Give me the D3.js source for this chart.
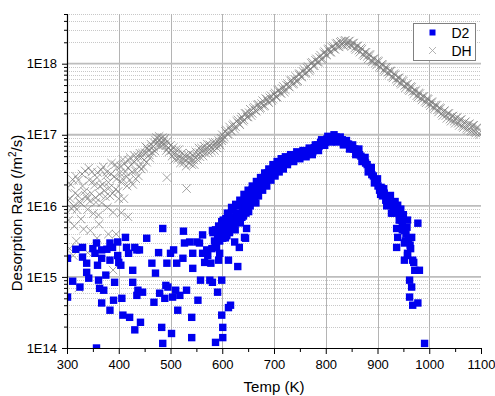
<!DOCTYPE html>
<html>
<head>
<meta charset="utf-8">
<script src="https://cdn.jsdelivr.net/npm/d3@7"></script>
<style>
  html, body { margin: 0; padding: 0; background: #fff; }
  svg { display: block; font-family: "Liberation Sans", Arial, sans-serif; }
  .axis path, .axis line { stroke: #000; }
  .axis text { font-size: 13px; fill: #000; }
</style>
</head>
<body>
<div id="chart"></div>
<script>
'use strict';

// chart values
const seriesNames = ['D2', 'DH'];
const tempTicks = [300, 400, 500, 600, 700, 800, 900, 1000, 1100];
const rateTicks = [1e14, 1e15, 1e16, 1e17, 1e18];
const rateTickLabels = ['1E14', '1E15', '1E16', '1E17', '1E18'];

// D2: [Temp (K), rate]
const d2Points = [
  // low temperature scatter
  [301, 1.83e15], [301, 5.2e14], [311, 8.7e14], [317, 2.45e15], [325, 7.2e14], [330, 1.9e15],
  [330, 2.6e15], [338, 1.56e15], [338, 1.16e15], [342, 9.6e14], [350, 2.5e15], [354, 2.15e15],
  [357, 3.0e15], [359, 1.46e15], [361, 9.0e14], [363, 6.9e14], [367, 2.4e15], [367, 1.83e15],
  [367, 4.3e14], [371, 6.5e14], [375, 1.06e15], [377, 2.45e15], [383, 3.0e15], [383, 1.72e15],
  [383, 3.4e14], [388, 2.6e15], [390, 4.7e14], [392, 8.4e14], [398, 3.1e15], [398, 2.0e15],
  [400, 1.6e15], [404, 1.46e15], [406, 5.0e14], [408, 2.9e14], [413, 3.6e15], [415, 2.6e15],
  [419, 2.15e15], [421, 2.7e14], [427, 1.24e15], [427, 8.4e14], [431, 2.6e15], [435, 2.4e15],
  [431, 1.8e14], [435, 5.5e14], [437, 6.5e14], [440, 2.4e15], [442, 2.3e14], [446, 6.1e14],
  [454, 3.5e15], [464, 1.56e15], [468, 4.4e14], [471, 1.13e15], [477, 2.2e15], [479, 5.9e14],
  [483, 1.95e14], [485, 4.8e15], [485, 1.16e14], [489, 5.0e14], [491, 7.6e14], [493, 1.56e15],
  [495, 7.2e14], [500, 2.15e15], [502, 1.6e14], [504, 5.2e14], [506, 2.4e15], [510, 6.5e14],
  [512, 1.56e15], [514, 3.4e14], [518, 5.5e14], [524, 1.83e15], [525, 4.4e15], [527, 3.0e15],
  [531, 6.5e14], [537, 3.1e15], [541, 2.7e14], [543, 1.32e15], [541, 1.4e14], [543, 2.15e15],
  [551, 3.1e15], [553, 4.7e14], [556, 3.0e15], [558, 9.0e14], [562, 2.15e15], [562, 3.9e15],
  [566, 1.6e15], [570, 2.4e15], [572, 2.0e15], [576, 9.0e14], [578, 1.56e15], [581, 8.4e14],
  [587, 3.1e15], [591, 6.1e14], [593, 1.72e15], [595, 2.15e15], [599, 9.0e14], [599, 2.9e14],
  [601, 1.95e14], [601, 1.4e14], [587, 1.2e14], [612, 1.72e15], [612, 3.7e14], [616, 4.0e14],
  [630, 1.4e15], [357, 1.0e14],
  // main peak
  [580, 2.5e15], [582, 4.2e15], [585, 3.2e15], [587, 4.6e15], [589, 2.6e15], [591, 3.8e15],
  [593, 5.2e15], [595, 3.2e15], [597, 4.4e15], [599, 6.0e15], [601, 3.5e15], [603, 5.0e15],
  [605, 4.2e15], [607, 6.6e15], [609, 3.8e15], [611, 5.75e15], [613, 7.6e15], [615, 4.8e15],
  [617, 6.9e15], [619, 5.5e15], [621, 8.7e15], [623, 6.3e15], [625, 4.6e15], [627, 7.9e15],
  [629, 6.6e15], [631, 1.0e16], [633, 7.6e15], [635, 5.75e15], [637, 1.1e16], [639, 8.7e15],
  [641, 7.2e15], [643, 1.2e16], [645, 9.5e15], [647, 1.38e16], [649, 1.05e16], [651, 8.3e15],
  [653, 1.51e16], [655, 1.2e16], [657, 1.66e16], [659, 1.32e16], [661, 1.82e16], [663, 1.45e16],
  [665, 1.1e16], [667, 1.9e16], [669, 1.58e16], [671, 2.1e16], [673, 1.74e16], [675, 2.3e16],
  [677, 1.9e16], [679, 2.5e16], [681, 2.0e16], [683, 2.63e16], [685, 2.2e16], [687, 2.9e16],
  [689, 2.4e16], [691, 3.0e16], [693, 2.5e16], [695, 3.16e16], [697, 2.75e16], [699, 3.47e16],
  [701, 2.9e16], [703, 3.6e16], [705, 3.16e16], [707, 3.8e16], [709, 3.3e16], [711, 4.0e16],
  [713, 3.47e16], [715, 4.2e16], [717, 3.7e16], [719, 4.4e16], [721, 4.0e16], [724, 4.6e16],
  [727, 4.2e16], [730, 4.8e16], [733, 4.4e16], [736, 5.0e16], [739, 4.7e16], [742, 5.25e16],
  [745, 4.8e16], [748, 5.4e16], [751, 5.0e16], [754, 5.5e16], [757, 5.1e16], [760, 5.6e16],
  [763, 5.25e16], [766, 5.9e16], [769, 5.5e16], [772, 6.2e16], [775, 5.75e16], [778, 6.6e16],
  [781, 6.3e16], [784, 7.2e16], [787, 6.9e16], [790, 7.8e16], [793, 7.4e16], [796, 8.3e16],
  [799, 7.9e16], [802, 8.7e16], [805, 8.3e16], [808, 9.1e16], [811, 8.7e16], [814, 9.3e16],
  [817, 8.9e16], [820, 9.3e16], [823, 8.7e16], [826, 8.9e16], [829, 8.3e16], [832, 8.5e16],
  [835, 7.9e16], [838, 7.9e16], [841, 7.4e16], [844, 7.4e16], [847, 6.9e16], [850, 6.9e16],
  [853, 6.3e16], [856, 6.3e16], [859, 5.75e16], [862, 5.75e16], [865, 5.25e16], [868, 5.0e16],
  [871, 4.6e16], [874, 4.4e16], [877, 4.0e16], [880, 3.8e16], [883, 3.3e16], [886, 3.16e16],
  [889, 2.75e16], [892, 2.63e16], [895, 2.3e16], [898, 2.14e16], [901, 1.9e16], [904, 1.66e16],
  [907, 1.82e16], [910, 1.38e16], [913, 1.51e16], [916, 1.2e16], [919, 1.32e16], [922, 1.05e16],
  [602, 6.3e15], [606, 3.55e15], [610, 7.9e15], [614, 4.2e15], [618, 9.5e15], [622, 5.0e15],
  [626, 1.05e16], [630, 6.0e15], [634, 1.2e16], [638, 6.9e15], [642, 1.45e16], [646, 7.9e15],
  [650, 1.66e16], [654, 1.0e16], [658, 1.9e16], [662, 1.2e16], [666, 2.2e16], [670, 1.38e16],
  [674, 2.5e16], [678, 1.66e16], [682, 2.9e16], [686, 1.9e16], [690, 3.3e16], [694, 2.3e16],
  [698, 3.8e16], [702, 2.63e16], [706, 4.2e16], [710, 3.0e16], [714, 4.6e16], [718, 3.3e16],
  [722, 4.9e16], [726, 3.8e16], [732, 5.25e16], [738, 4.2e16], [744, 5.75e16], [750, 4.6e16],
  [756, 6.0e16], [762, 4.9e16], [768, 6.5e16], [774, 5.25e16], [780, 7.2e16], [786, 6.0e16],
  [792, 8.5e16], [798, 7.1e16], [804, 9.5e16], [810, 7.9e16], [816, 1.0e17], [822, 7.9e16],
  [828, 9.3e16], [834, 7.2e16], [840, 8.3e16], [846, 6.3e16], [852, 7.2e16], [858, 5.25e16],
  [864, 6.3e16], [870, 4.2e16], [876, 4.8e16], [882, 3.0e16], [888, 3.47e16], [894, 2.1e16],
  [900, 2.4e16], [906, 1.45e16], [912, 1.74e16], [918, 1.0e16], [924, 1.38e16], [930, 7.9e15],
  [936, 1.0e16], [942, 6.3e15], [948, 4.6e15], [954, 3.2e15], [958, 2.0e15], [964, 2.5e15],
  [970, 1.6e15],
  // high temperature tail
  [925, 1.4e16], [928, 1.1e16], [931, 9.5e15], [934, 1.15e16], [940, 8.0e15], [943, 7.0e15],
  [945, 9.0e15], [948, 5.5e15], [950, 7.5e15], [955, 4.0e15], [957, 5.0e15], [960, 3.3e15],
  [963, 2.8e15], [918, 1.02e16], [927, 7.9e15], [939, 1.02e16], [946, 6.3e15], [958, 6.3e15],
  [978, 5.7e15], [937, 4.8e15], [952, 4.5e15], [939, 3.6e15], [966, 3.6e15], [937, 2.6e15],
  [952, 3.0e15], [958, 2.15e15], [952, 1.72e15], [968, 1.72e15], [972, 1.24e15], [981, 1.24e15],
  [962, 9.0e14], [966, 7.2e14], [962, 5.2e14], [968, 4.0e14], [978, 4.3e14], [991, 1.16e14],
  [581, 4.5e15], [600, 4.0e15], [606, 3.6e15], [624, 3.1e15], [647, 4.8e15], [643, 3.6e15],
  [633, 2.6e15], [645, 3.5e15]
];

// DH: [Temp (K), rate]
const dhPoints = [
  // low temperature cloud
  [301, 1.78e16], [303, 6.3e15], [306, 1.26e16], [309, 9.1e15], [311, 2.34e16], [314, 5.2e15],
  [316, 1.51e16], [319, 8.9e15], [322, 2.3e16], [324, 1.15e16], [327, 6.5e15], [330, 1.9e16],
  [332, 4.7e15], [335, 3.1e16], [337, 1.38e16], [340, 8.9e15], [343, 2.3e16], [345, 1.17e16],
  [348, 3.0e16], [351, 7.8e15], [353, 1.95e16], [356, 1.12e16], [359, 2.95e16], [361, 7.4e15],
  [364, 1.9e16], [367, 1.1e16], [370, 3.55e16], [372, 1.62e16], [375, 2.63e16], [378, 9.5e15],
  [380, 2.14e16], [383, 1.38e16], [386, 4.0e16], [389, 8.1e15], [391, 2.57e16], [394, 1.7e16],
  [397, 3.47e16], [400, 1.26e16], [402, 2.9e16], [405, 2.14e16], [408, 4.5e16], [410, 1.26e16],
  [413, 3.0e16], [416, 1.9e16], [419, 4.4e16], [421, 2.3e16], [424, 3.8e16], [427, 2.0e16],
  [430, 5.1e16], [432, 3.1e16], [435, 4.5e16], [438, 2.63e16], [441, 5.5e16], [443, 3.3e16],
  [446, 5.5e16], [449, 4.4e16], [452, 6.8e16], [454, 4.1e16], [457, 6.0e16], [460, 4.7e16],
  [462, 7.4e16], [465, 5.6e16], [468, 7.8e16], [470, 5.9e16], [473, 9.1e16], [476, 7.1e16],
  [478, 9.5e16], [481, 6.9e16], [484, 9.1e16], [486, 7.2e16], [489, 8.9e16], [492, 6.0e16],
  [493, 2.5e16], [494, 8.1e16], [497, 5.75e16], [500, 7.1e16], [503, 5.0e16], [505, 6.6e16],
  [508, 4.5e16], [511, 6.2e16], [514, 4.6e16], [516, 6.2e16], [519, 4.0e16], [522, 5.5e16],
  [525, 4.0e16], [527, 5.1e16], [530, 3.6e16], [531, 1.75e16], [533, 5.2e16], [536, 4.0e16],
  [538, 5.5e16], [541, 3.8e16], [544, 5.1e16], [546, 3.8e16], [549, 5.75e16], [552, 4.5e16],
  [555, 6.5e16], [557, 4.9e16], [560, 6.5e16], [563, 5.0e16], [565, 6.9e16], [568, 5.5e16],
  [571, 7.4e16], [574, 5.6e16], [576, 7.2e16], [579, 5.9e16], [582, 7.8e16], [585, 6.0e16],
  [587, 7.8e16], [590, 6.5e16], [593, 8.3e16], [596, 7.1e16], [598, 8.9e16],
  [305, 2.5e15], [312, 2.0e15], [318, 3.2e15], [323, 7.0e14], [340, 2.2e15], [345, 4.5e15],
  [358, 3.5e15], [362, 5.5e15], [380, 4.0e15], [389, 1.25e15], [395, 4.0e15], [405, 8.0e15],
  [418, 7.0e15],
  [302, 1.2e16], [307, 2.0e16], [313, 1.0e16], [317, 2.6e16], [321, 1.4e16], [326, 1.1e16],
  [329, 2.8e16], [334, 1.6e16], [339, 1.25e16], [342, 3.4e16], [347, 1.5e16], [350, 2.2e16],
  [355, 1.3e16], [358, 2.5e16], [363, 1.45e16], [366, 3.2e16], [369, 2.0e16], [374, 1.35e16],
  [377, 3.0e16], [382, 1.8e16], [385, 2.8e16], [388, 1.5e16], [393, 3.8e16], [396, 2.4e16],
  [399, 1.6e16], [404, 3.6e16], [407, 2.4e16], [411, 3.9e16], [415, 2.6e16], [418, 3.4e16],
  [422, 4.8e16], [426, 3.0e16], [429, 4.1e16], [433, 2.4e16], [437, 5.0e16], [440, 3.6e16],
  [444, 4.8e16], [448, 3.5e16], [451, 5.6e16], [455, 6.5e16], [459, 5.2e16], [463, 6.4e16],
  [467, 6.8e16], [471, 8.4e16], [475, 7.9e16], [479, 8.6e16], [483, 7.6e16], [487, 8.3e16],
  [491, 7.0e16], [496, 6.6e16], [502, 6.0e16], [507, 5.4e16], [513, 5.3e16], [518, 4.8e16],
  [524, 4.6e16], [529, 4.4e16], [535, 4.7e16], [540, 4.5e16], [545, 4.4e16], [551, 5.0e16],
  [556, 5.6e16], [561, 5.8e16], [567, 6.2e16], [572, 6.5e16], [578, 6.6e16], [583, 7.0e16],
  [589, 7.2e16], [594, 7.6e16], [599, 8.2e16],
  // main peak
  [600, 1.0e17], [604, 9.3e16], [608, 1.17e17], [612, 1.02e17], [616, 1.17e17], [620, 1.35e17],
  [624, 1.2e17], [628, 1.55e17], [632, 1.45e17], [636, 1.66e17], [640, 1.55e17], [644, 2.0e17],
  [648, 1.78e17], [652, 2.04e17], [656, 1.86e17], [660, 2.34e17], [664, 2.19e17], [668, 2.63e17],
  [672, 2.34e17], [676, 2.75e17], [680, 2.51e17], [684, 3.24e17], [688, 2.95e17], [692, 3.31e17],
  [696, 3.02e17], [700, 3.72e17], [704, 3.39e17], [708, 4.17e17], [712, 3.89e17], [716, 4.47e17],
  [720, 3.98e17], [724, 5.0e17], [728, 4.79e17], [732, 5.75e17], [736, 5.13e17], [740, 6.03e17],
  [744, 5.62e17], [748, 7.08e17], [752, 6.61e17], [756, 7.76e17], [760, 7.24e17], [764, 8.71e17],
  [768, 7.94e17], [772, 1.02e18], [776, 9.33e17], [780, 1.12e18], [784, 1.05e18], [788, 1.23e18],
  [792, 1.15e18], [796, 1.41e18], [800, 1.35e18], [804, 1.58e18], [808, 1.45e18], [812, 1.70e18],
  [816, 1.62e18], [820, 1.91e18], [824, 1.74e18], [828, 2.0e18], [832, 1.86e18], [836, 2.09e18],
  [840, 1.86e18], [844, 2.07e18], [848, 1.84e18], [852, 1.95e18], [856, 1.66e18], [860, 1.78e18],
  [864, 1.55e18], [868, 1.66e18], [872, 1.35e18], [876, 1.45e18], [880, 1.26e18], [884, 1.35e18],
  [888, 1.12e18], [892, 1.17e18], [896, 1.02e18], [900, 1.10e18], [904, 9.12e17], [908, 9.77e17],
  [912, 8.13e17], [916, 8.91e17], [920, 7.59e17], [924, 7.94e17], [928, 6.61e17], [932, 7.24e17],
  [936, 6.03e17], [940, 6.31e17], [944, 5.37e17], [948, 5.89e17], [952, 4.90e17], [956, 5.13e17],
  [960, 4.37e17], [964, 4.79e17], [968, 4.07e17], [972, 4.17e17], [976, 3.55e17], [980, 3.89e17],
  [984, 3.31e17], [988, 3.47e17], [992, 2.95e17], [996, 3.24e17], [1000, 2.75e17], [1004, 2.88e17],
  [1008, 2.45e17], [1012, 2.63e17], [1016, 2.24e17], [1020, 2.40e17], [1024, 2.0e17], [1028, 2.14e17],
  [1032, 1.86e17], [1036, 2.0e17], [1040, 1.66e17], [1044, 1.82e17], [1048, 1.55e17], [1052, 1.70e17],
  [1056, 1.45e17], [1060, 1.62e17], [1064, 1.32e17], [1068, 1.48e17], [1072, 1.23e17], [1076, 1.41e17],
  [1080, 1.15e17], [1084, 1.35e17], [1088, 1.10e17], [1092, 1.26e17], [1096, 1.05e17],
  [602, 8.7e16], [606, 1.12e17], [610, 1.02e17], [614, 1.29e17], [618, 1.12e17], [622, 1.41e17],
  [626, 1.29e17], [630, 1.62e17], [634, 1.38e17], [638, 1.78e17], [642, 1.62e17], [646, 2.0e17],
  [650, 1.78e17], [654, 2.29e17], [658, 2.0e17], [662, 2.45e17], [666, 2.14e17], [670, 2.69e17],
  [674, 2.4e17], [678, 3.02e17], [682, 2.57e17], [686, 3.16e17], [690, 2.82e17], [694, 3.55e17],
  [698, 3.16e17], [702, 3.89e17], [706, 3.39e17], [710, 4.27e17], [714, 3.8e17], [718, 4.79e17],
  [722, 4.27e17], [726, 5.25e17], [730, 4.68e17], [734, 5.89e17], [738, 5.25e17], [742, 6.61e17],
  [746, 5.75e17], [750, 7.24e17], [754, 6.46e17], [758, 8.32e17], [762, 7.41e17], [766, 9.12e17],
  [770, 8.32e17], [774, 1.05e18], [778, 9.33e17], [782, 1.17e18], [786, 1.05e18], [790, 1.32e18],
  [794, 1.17e18], [798, 1.48e18], [802, 1.32e18], [806, 1.62e18], [810, 1.45e18], [814, 1.78e18],
  [818, 1.58e18], [822, 1.95e18], [826, 1.72e18], [830, 2.07e18], [834, 1.8e18], [838, 2.14e18],
  [842, 1.82e18], [846, 2.09e18], [850, 1.74e18], [854, 1.95e18], [858, 1.58e18], [862, 1.78e18],
  [866, 1.45e18], [870, 1.6e18], [874, 1.29e18], [878, 1.45e18], [882, 1.17e18], [886, 1.32e18],
  [890, 1.06e18], [894, 1.17e18], [898, 9.55e17], [902, 1.07e18], [906, 8.71e17], [910, 9.66e17],
  [914, 7.76e17], [918, 8.71e17], [922, 7.08e17], [926, 7.85e17], [930, 6.31e17], [934, 7.0e17],
  [938, 5.62e17], [942, 6.31e17], [946, 5.13e17], [950, 5.69e17], [954, 4.57e17], [958, 5.13e17],
  [962, 4.17e17], [966, 4.68e17], [970, 3.76e17], [974, 4.17e17], [978, 3.39e17], [982, 3.8e17],
  [986, 3.09e17], [990, 3.47e17], [994, 2.82e17], [998, 3.16e17], [1002, 2.57e17], [1006, 2.88e17],
  [1010, 2.32e17], [1014, 2.57e17], [1018, 2.09e17], [1022, 2.34e17], [1026, 1.86e17], [1030, 2.19e17],
  [1034, 1.70e17], [1038, 2.0e17], [1042, 1.55e17], [1046, 1.84e17], [1050, 1.45e17], [1054, 1.76e17],
  [1058, 1.35e17], [1062, 1.64e17], [1066, 1.26e17], [1070, 1.53e17], [1074, 1.17e17], [1078, 1.43e17],
  [1082, 1.11e17], [1086, 1.36e17], [1090, 1.06e17], [1094, 1.27e17], [1098, 1.01e17]
];

// layout
const width = 495, height = 396;
const margin = { top: 14, right: 14, bottom: 48, left: 67 };

const svg = d3.select('#chart').append('svg')
    .attr('width', width)
    .attr('height', height);

const x = d3.scaleLinear()
    .domain([300, 1100])
    .range([margin.left, width - margin.right]);

const y = d3.scaleLog()
    .domain([1e14, 5e18])
    .range([height - margin.bottom, margin.top]);

// minor tick positions
const tempMinor = tempTicks.slice(0, -1).map(t => t + 50);
const rateMinor = [];
rateTicks.forEach(d => {
    for (let k = 2; k <= 9; k++) {
        const v = d * k;
        if (v <= 5e18) rateMinor.push(v);
    }
});

// grid
const grid = svg.append('g');
grid.selectAll('.minor-h')
    .data(rateMinor)
    .enter().append('line')
    .attr('x1', x(300)).attr('x2', x(1100))
    .attr('y1', d => Math.round(y(d)) + 0.5).attr('y2', d => Math.round(y(d)) + 0.5)
    .attr('stroke', '#c8c8c8')
    .attr('stroke-width', 1)
    .attr('stroke-dasharray', '1,1');

grid.selectAll('.major-v')
    .data(tempTicks.slice(1, -1))
    .enter().append('line')
    .attr('x1', d => Math.round(x(d)) + 0.5).attr('x2', d => Math.round(x(d)) + 0.5)
    .attr('y1', y(5e18)).attr('y2', y(1e14))
    .attr('stroke', '#b4b4b4')
    .attr('stroke-width', 1);

grid.selectAll('.major-h')
    .data(rateTicks.slice(1))
    .enter().append('line')
    .attr('x1', x(300)).attr('x2', x(1100))
    .attr('y1', d => y(d)).attr('y2', d => y(d))
    .attr('stroke', '#bdbdbd')
    .attr('stroke-width', 1.8);

// clip to plot area
svg.append('clipPath').attr('id', 'plot-clip')
    .append('rect')
    .attr('x', x(300)).attr('y', y(5e18))
    .attr('width', x(1100) - x(300))
    .attr('height', y(1e14) - y(5e18));

const plot = svg.append('g').attr('clip-path', 'url(#plot-clip)');

// DH crosses
const cs = 4.2;
plot.append('g').selectAll('path')
    .data(dhPoints)
    .enter().append('path')
    .attr('d', d => {
        const px = x(d[0]), py = y(d[1]);
        return `M${px - cs},${py - cs}L${px + cs},${py + cs}M${px - cs},${py + cs}L${px + cs},${py - cs}`;
    })
    .attr('fill', 'none')
    .attr('stroke', '#7a7a7a')
    .attr('stroke-width', 0.7);

// D2 squares
const sq = 7.4;
plot.append('g').selectAll('rect')
    .data(d2Points)
    .enter().append('rect')
    .attr('x', d => x(d[0]) - sq / 2)
    .attr('y', d => y(d[1]) - sq / 2)
    .attr('width', sq)
    .attr('height', sq)
    .attr('fill', '#0000ee');

// axes
const xAxis = svg.append('g')
    .attr('class', 'axis')
    .attr('transform', `translate(0,${y(1e14)})`)
    .call(d3.axisBottom(x).tickValues(tempTicks).tickSize(6).tickPadding(6).tickFormat(d3.format('d')));
svg.append('g')
    .attr('class', 'axis')
    .attr('transform', `translate(0,${y(1e14)})`)
    .call(d3.axisBottom(x).tickValues(tempMinor).tickSize(4).tickFormat(''))
    .select('.domain').remove();

const yAxis = svg.append('g')
    .attr('class', 'axis')
    .attr('transform', `translate(${x(300)},0)`)
    .call(d3.axisLeft(y).tickValues(rateTicks).tickSize(5).tickPadding(5)
        .tickFormat((d, i) => rateTickLabels[i]));
svg.append('g')
    .attr('class', 'axis')
    .attr('transform', `translate(${x(300)},0)`)
    .call(d3.axisLeft(y).tickValues(rateMinor).tickSize(3).tickFormat(''))
    .select('.domain').remove();

xAxis.select('.domain').attr('d', `M${x(300)},0.5H${x(1100)}`).attr('stroke-width', 1.2);
yAxis.select('.domain').attr('d', `M0.5,${y(5e18)}V${y(1e14)}`).attr('stroke-width', 1.2);

// axis titles
svg.append('text')
    .attr('x', (x(300) + x(1100)) / 2)
    .attr('y', 392)
    .attr('text-anchor', 'middle')
    .attr('font-size', 15)
    .text('Temp (K)');

const yTitle = svg.append('text')
    .attr('transform', `translate(22,${(y(1e14) + y(5e18)) / 2 + 32}) rotate(-90)`)
    .attr('text-anchor', 'middle')
    .attr('font-size', 15);
yTitle.append('tspan').text('Desorption Rate (/m');
yTitle.append('tspan').attr('font-size', 10).attr('dy', -6).text('2');
yTitle.append('tspan').attr('dy', 6).text('/s)');

// legend
const legend = svg.append('g').attr('transform', 'translate(413.5,23.5)');
legend.append('rect')
    .attr('width', 62).attr('height', 37)
    .attr('fill', '#fff')
    .attr('stroke', '#808080')
    .attr('stroke-width', 1);

legend.append('rect')
    .attr('x', 19 - 3).attr('y', 9 - 3)
    .attr('width', 6).attr('height', 6)
    .attr('fill', '#0000ee');
legend.append('path')
    .attr('d', 'M15.5,23.5L22.5,30.5M15.5,30.5L22.5,23.5')
    .attr('stroke', '#a0a0a0')
    .attr('stroke-width', 0.8);

legend.selectAll('.label')
    .data(seriesNames)
    .enter().append('text')
    .attr('x', 38)
    .attr('y', (d, i) => 14 + i * 18)
    .attr('font-size', 14)
    .text(d => d);
</script>
</body>
</html>
